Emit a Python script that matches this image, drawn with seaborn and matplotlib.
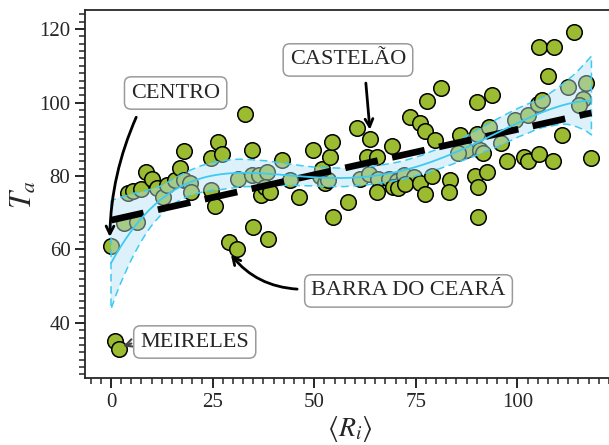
import numpy as np
import pandas as pd
import matplotlib
matplotlib.use("Agg")
import matplotlib.pyplot as plt
from matplotlib.ticker import MultipleLocator
import seaborn as sns

sns.set_style("ticks")
plt.rcParams["font.family"] = ["Liberation Serif", "DejaVu Serif"]
plt.rcParams["mathtext.fontset"] = "stix"

PT_COLOR   = "#9BBB30"
POLY_COLOR = "#3CCBF4"

# <R_i> (mean rank) and T_a per neighbourhood
x_ri = [0, 1, 2, 3.2, 6.5, 4.3, 5.5, 7.3, 8.7, 10.2,
        11.4, 12.9, 13.7, 15.7, 17, 18, 18, 19.4, 19.8,
        24.5, 25.7, 24.7, 26.4, 27.2, 29, 31,
        31.3, 33, 34.8, 34.6, 35, 36.3, 38.5, 37, 37.9, 39.1, 38.7,
        42, 44, 46.2, 49.8, 51.4, 52.6, 53.3, 51.8, 53.9, 54.4, 54.7, 58.3,
        60.4, 61.3, 62.9, 63.7, 63.4, 65.4, 65.7, 65.4,
        68.4, 70.3, 71.5, 69.3, 70.7, 69.2,
        73.6, 72, 74.6, 72.3, 76, 77.2,
        76, 77.2, 77.7, 81.2, 79.7,
        78.9, 83.4, 83.1, 89.5, 92.4, 90.4, 90.4,
        85.9, 87.3, 85.4, 90.8, 91.6, 90, 93, 90, 93.8,
        95.9, 97.4, 99.4, 101.6, 102.7, 105.3, 108.8,
        102.7, 105.1, 106,
        110.9, 118.2, 107.4, 105.3, 109, 114,
        112.5, 116.9, 116.2, 115.2]
y_ta = [61, 35, 33, 67.3, 67.6, 75.3, 75.8, 76.4, 81.2, 79.1,
        76.7, 74.4, 77.6, 79, 82.2, 86.9, 79, 78, 75.7,
        76.2, 71.8, 85, 89.2, 86, 62, 60,
        79.1, 97, 87, 80.3, 66, 80.3, 81, 74.8, 77.1, 75.7, 62.8,
        84.3, 78.9, 74.2, 87, 79.9, 78, 78.9, 82, 85.2, 89.2, 68.9, 73,
        93.1, 79.3, 85.3, 90, 80.6, 85.3, 79.1, 75.7,
        79.1, 78.7, 78.1, 77, 76.8, 88.3,
        96.1, 80.3, 79.6, 77.7, 78, 75.1,
        94.3, 92.2, 100.3, 103.9, 89.8,
        79.9, 78.9, 75.7, 80.1, 81, 77.1, 68.9,
        91.2, 87.1, 86.2, 87.1, 86.2, 91.4, 93.3, 100.2, 102.1,
        88.9, 84, 95.2, 85.3, 84, 86.1, 84,
        96.6, 99.5, 100.7,
        91.1, 85, 107.2, 115.2, 115.2, 119.3,
        104.2, 105.2, 101.1, 99.2]

df = pd.DataFrame({"ri": x_ri, "ta": y_ta})

fig = plt.figure(figsize=(6.09, 4.45), dpi=100)
ax = fig.add_axes([85 / 609, 67 / 445, 530 / 609, 368 / 445])

sns.scatterplot(data=df, x="ri", y="ta", color=PT_COLOR, s=125,
                edgecolor="k", linewidth=1.1, ax=ax, zorder=1)

# linear fit, thick black dashes
sns.regplot(data=df, x="ri", y="ta", scatter=False, ci=None, color="k",
            line_kws=dict(lw=4.8, ls=(0, (5, 2.2)), zorder=3), ax=ax)

# polynomial fit with bootstrap band
n_before = len(ax.collections)
sns.regplot(data=df, x="ri", y="ta", scatter=False, order=4, ci=95,
            seed=0, color=POLY_COLOR, line_kws=dict(lw=1.3, zorder=4), ax=ax)
band = ax.collections[n_before]
band.set_alpha(None)
band.set_facecolor((0.70, 0.88, 0.95, 0.45))
band.set_edgecolor(POLY_COLOR)
band.set_linestyle((0, (5, 3)))
band.set_linewidth(1.1)
band.set_zorder(2)

# labels with arrows
box = dict(boxstyle="round,pad=0.3", fc="white", ec="#9a9a9a", lw=1.1)
txt_kw = dict(fontsize=16, ha="center", va="center", bbox=box, zorder=6)
arr = dict(arrowstyle="->", color="k", lw=2, mutation_scale=14, shrinkA=0, shrinkB=0)

ax.text(15.9, 102.6, "CENTRO", **txt_kw)
ax.annotate("", xy=(-0.3, 63.4), xytext=(6.2, 96.0),
            arrowprops=dict(arr, connectionstyle="arc3,rad=0.1"), zorder=5)

ax.text(58.3, 111.6, "CASTELÃO", **txt_kw)
ax.annotate("", xy=(63.7, 92.6), xytext=(62.7, 105.3),
            arrowprops=dict(arr, connectionstyle="arc3,rad=0"), zorder=5)

ax.text(73.2, 48.7, "BARRA DO CEARÁ", **txt_kw)
ax.annotate("", xy=(29.5, 58.6), xytext=(45.8, 49.2),
            arrowprops=dict(arr, connectionstyle="arc3,rad=-0.22"), zorder=5)

ax.text(20.6, 34.8, "MEIRELES", **txt_kw)
ax.annotate("", xy=(3.0, 33.6), xytext=(5.0, 34.4),
            arrowprops=dict(arr, lw=1.5, color="#444444"), zorder=5)

ax.set_xlim(-6.4, 124)
ax.set_ylim(25, 125.2)
ax.xaxis.set_major_locator(MultipleLocator(25))
ax.xaxis.set_minor_locator(MultipleLocator(2.5))
ax.yaxis.set_major_locator(MultipleLocator(20))
ax.yaxis.set_minor_locator(MultipleLocator(2))
ax.tick_params(which="major", direction="out", length=7, width=1.4, labelsize=15,
               top=False, right=False)
ax.tick_params(which="minor", direction="out", length=4, width=1.1,
               top=False, right=False)
for s in ax.spines.values():
    s.set_linewidth(1.3)

ax.set_xlabel(r"$\langle R_i \rangle$", fontsize=20, labelpad=2)
ax.set_ylabel(r"$T_a$", fontsize=22, labelpad=0)

plt.savefig("out.png", dpi=100)
plt.close()
